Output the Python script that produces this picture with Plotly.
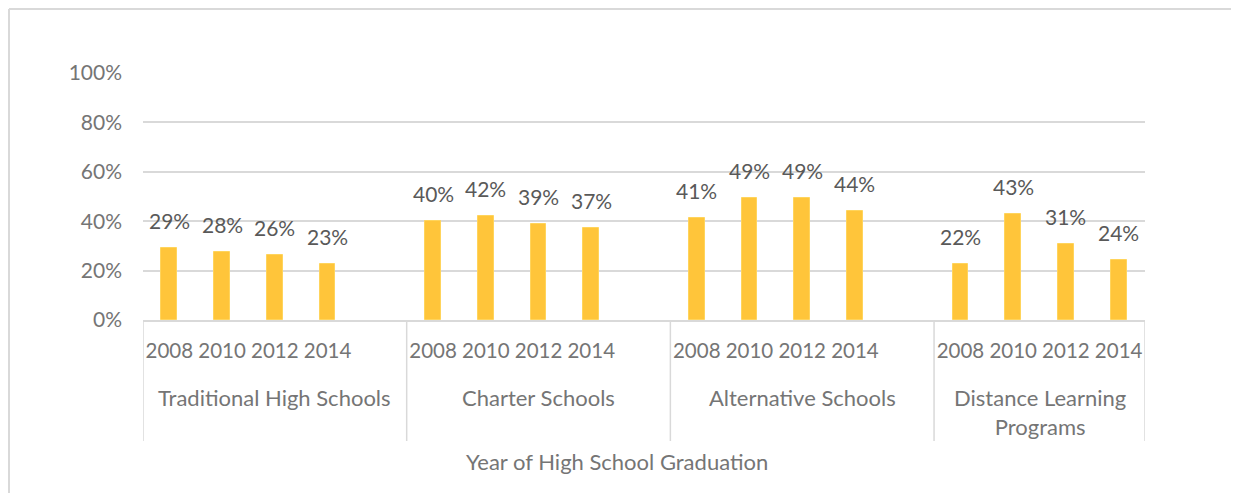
import plotly.graph_objects as go

# data
groups = ["Traditional High Schools", "Charter Schools", "Alternative Schools",
          "Distance Learning<br>Programs"]
years = ["2008", "2010", "2012", "2014"]
traditional = [0.290, 0.277, 0.264, 0.228]
charter = [0.400, 0.420, 0.390, 0.372]
alternative = [0.414, 0.494, 0.493, 0.441]
distance = [0.225, 0.430, 0.307, 0.242]
slots = [5, 5, 5, 4]   # last group has no spare gap slot

series = [traditional, charter, alternative, distance]

# page body has an 8px margin, so the figure sits at (8, 8) in the window
OFF = 8
W, H = 1239 - OFF, 493 - OFF
L, R, T, B = 143 - OFF, 1239 - 1145, 73 - OFF, 493 - 320
pw, ph = W - L - R, H - T - B

# window pixel -> paper coords
def px_x(p):
	return (p - OFF - L) / pw

def px_y(p):
	return (H - B - (p - OFF)) / ph

BAR = "#FFC53A"
GRID = "#D9D9D9"
AXTXT = "#757575"
LBLTXT = "#595959"
FONT = "Lato, 'Open Sans', sans-serif"

xs, ys, tick_text = [], [], []
bounds = [-0.5]
start = 0
for vals, n in zip(series, slots):
	for i, v in enumerate(vals):
		xs.append(start + i)
		ys.append(v)
		tick_text.append(years[i])
	start += n
	bounds.append(start - 0.5)

fig = go.Figure()
fig.add_trace(go.Bar(
	x = xs, y = ys,
	width = 0.3,
	marker = dict(color = BAR, line = dict(color = "#FFD45C", width = 1)),
	hovertemplate = "%{y:.0%}<extra></extra>"))

annotations = []
for x, y in zip(xs, ys):
	annotations.append(dict(
		x = x, y = y, xref = "x", yref = "y",
		text = f"{round(y * 100):d}%",
		showarrow = False, yanchor = "bottom", yshift = 13,
		font = dict(family = FONT, size = 21, color = LBLTXT)))

for g, lo, hi in zip(groups, bounds[:-1], bounds[1:]):
	annotations.append(dict(
		x = (lo + hi) / 2, y = px_y(382), xref = "x", yref = "paper",
		text = g, showarrow = False, yanchor = "top",
		font = dict(family = FONT, size = 22, color = AXTXT)))

annotations.append(dict(
	x = px_x(617), y = px_y(462), xref = "paper", yref = "paper",
	text = "Year of High School Graduation", showarrow = False,
	yanchor = "middle", font = dict(family = FONT, size = 22, color = AXTXT)))

shapes = []
for b in bounds:
	shapes.append(dict(type = "line", xref = "x", yref = "paper",
		x0 = b, x1 = b, y0 = 0, y1 = px_y(441),
		line = dict(color = GRID, width = 1.5)))

# chart area frame (only top and left are inside the picture)
shapes.append(dict(type = "line", xref = "paper", yref = "paper",
	x0 = px_x(9), x1 = px_x(9), y0 = px_y(9), y1 = px_y(500),
	line = dict(color = GRID, width = 2)))
shapes.append(dict(type = "line", xref = "paper", yref = "paper",
	x0 = px_x(9), x1 = px_x(1250), y0 = px_y(9), y1 = px_y(9),
	line = dict(color = GRID, width = 2)))

fig.update_layout(
	width = W, height = H,
	margin = dict(l = L, r = R, t = T, b = B),
	paper_bgcolor = "white", plot_bgcolor = "white",
	showlegend = False,
	font = dict(family = FONT, size = 20, color = AXTXT),
	annotations = annotations,
	shapes = shapes,
	bargap = 0)

fig.update_xaxes(
	range = [-0.5, sum(slots) - 0.5],
	tickmode = "array", tickvals = xs, ticktext = tick_text,
	showgrid = False, zeroline = False,
	showline = True, linecolor = GRID, linewidth = 1.5,
	ticks = "", ticklabelstandoff = 12,
	tickfont = dict(family = FONT, size = 20.5, color = AXTXT))

fig.update_yaxes(
	range = [0, 1], dtick = 0.2, tickformat = ".0%",
	showgrid = True, gridcolor = GRID, gridwidth = 1.5,
	zeroline = False, showline = False,
	ticks = "", ticklabelstandoff = 20,
	tickfont = dict(family = FONT, size = 21, color = AXTXT))

fig.write_html("out.html")
